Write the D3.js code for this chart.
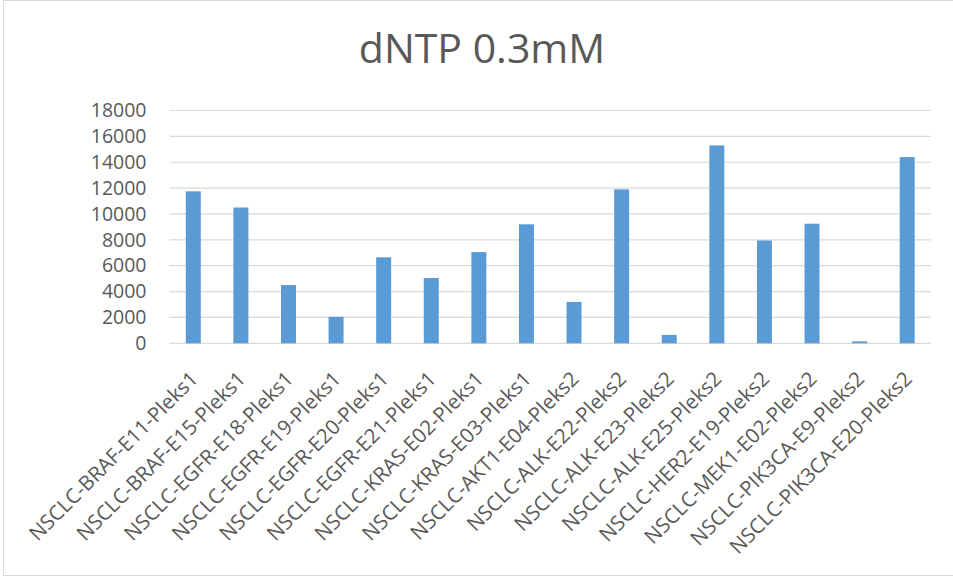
<!DOCTYPE html>
<html>
<head>
<meta charset="utf-8">
<script src="https://cdn.jsdelivr.net/npm/d3@7"></script>
<style>
  html, body { margin: 0; padding: 0; background: #fff; }
  svg { display: block; }
  text { font-family: "Open Sans", "Liberation Sans", sans-serif; fill: #595959; }
</style>
</head>
<body>
<svg id="chart" width="953" height="579"></svg>
<script>
const title = "dNTP 0.3mM";
const categories = [
  "NSCLC-BRAF-E11-Pleks1", "NSCLC-BRAF-E15-Pleks1", "NSCLC-EGFR-E18-Pleks1",
  "NSCLC-EGFR-E19-Pleks1", "NSCLC-EGFR-E20-Pleks1", "NSCLC-EGFR-E21-Pleks1",
  "NSCLC-KRAS-E02-Pleks1", "NSCLC-KRAS-E03-Pleks1", "NSCLC-AKT1-E04-Pleks2",
  "NSCLC-ALK-E22-Pleks2", "NSCLC-ALK-E23-Pleks2", "NSCLC-ALK-E25-Pleks2",
  "NSCLC-HER2-E19-Pleks2", "NSCLC-MEK1-E02-Pleks2", "NSCLC-PIK3CA-E9-Pleks2",
  "NSCLC-PIK3CA-E20-Pleks2"
];
const values = [11750, 10500, 4500, 2050, 6650, 5050, 7050, 9200, 3200, 11900, 650, 15300, 7950, 9250, 150, 14400];
const yTicks = [0, 2000, 4000, 6000, 8000, 10000, 12000, 14000, 16000, 18000];

const svg = d3.select("#chart");
const plot = { left: 169.5, right: 931, top: 110.5, bottom: 343.3 };

// outer border
svg.append("rect")
  .attr("x", 3.5).attr("y", 0.5)
  .attr("width", 960).attr("height", 575)
  .attr("fill", "#fff").attr("stroke", "#D9D9D9").attr("stroke-width", 1);

const x = d3.scaleBand().domain(categories).range([plot.left, plot.right]).paddingInner(0.685).paddingOuter(0.3425);
const y = d3.scaleLinear().domain([0, 18000]).range([plot.bottom, plot.top]);

// gridlines
svg.append("g").selectAll("line").data(yTicks).join("line")
  .attr("x1", plot.left).attr("x2", plot.right)
  .attr("y1", d => y(d)).attr("y2", d => y(d))
  .attr("stroke", "#D9D9D9").attr("stroke-width", 1.2);

// y axis labels
const yAxis = d3.axisLeft(y).tickValues(yTicks).tickSize(0).tickPadding(23).tickFormat(d3.format("d"));
const gy = svg.append("g").attr("transform", `translate(${plot.left},0)`).call(yAxis);
gy.select(".domain").remove();
gy.selectAll("text").attr("font-size", 19.5).attr("fill", "#595959")
  .style("font-family", '"Open Sans", sans-serif');

// bars
svg.append("g").selectAll("rect").data(values).join("rect")
  .attr("x", (d, i) => x(categories[i]))
  .attr("width", x.bandwidth())
  .attr("y", d => y(d))
  .attr("height", d => y(0) - y(d))
  .attr("fill", "#5B9BD5");

// x axis labels
const xAxis = d3.axisBottom(x).tickSize(0).tickPadding(0);
const gx = svg.append("g").attr("transform", `translate(0,${plot.bottom})`).call(xAxis);
gx.select(".domain").remove();
gx.selectAll("text")
  .attr("font-size", 20.5)
  .attr("fill", "#595959")
  .style("font-family", '"Open Sans", sans-serif')
  .attr("text-anchor", "end")
  .attr("dy", null)
  .attr("y", 0)
  .attr("transform", "translate(6,37) rotate(-45)");

// title
svg.append("text")
  .attr("x", 482).attr("y", 63)
  .attr("text-anchor", "middle")
  .attr("font-size", 41)
  .text(title);
</script>
</body>
</html>
